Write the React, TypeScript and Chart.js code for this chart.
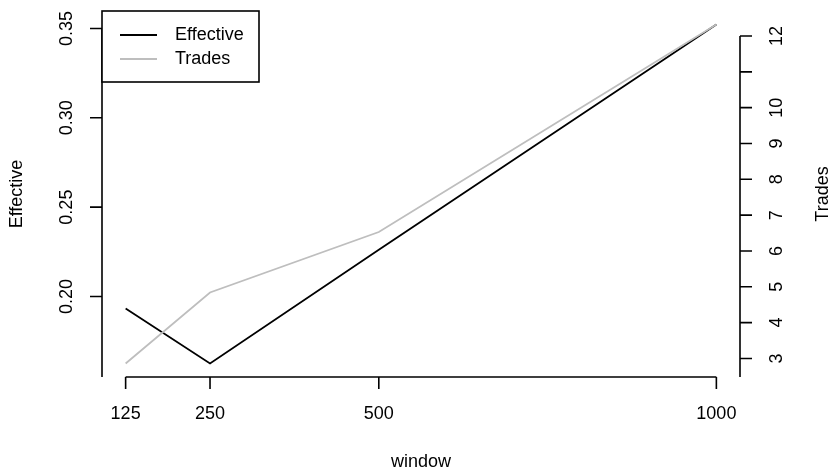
import React, { useEffect, useRef } from "react";
import { Chart, registerables } from "chart.js";

Chart.register(...registerables);

const windows = [125, 250, 500, 1000];
const effective = [0.1933, 0.1625, 0.2262, 0.3522];
const trades = [2.86, 4.84, 6.53, 12.32];
const xTicks = [125, 250, 500, 1000];
const leftTicks = [0.2, 0.25, 0.3, 0.35];
const leftTickLabels = ["0.20", "0.25", "0.30", "0.35"];
const rightTicks = [3, 4, 5, 6, 7, 8, 9, 10, 11, 12];
const rightTickLabels = ["3", "4", "5", "6", "7", "8", "9", "10", "", "12"];
const legendLabels = ["Effective", "Trades"];

const BLACK = "#000000";
const GRAY = "#BEBEBE";
const FONT = '18px "Liberation Sans", Arial, Helvetica, sans-serif';

function ext(vals: number[]) {
  const mn = Math.min(...vals);
  const mx = Math.max(...vals);
  const r = mx - mn;
  return { min: mn - 0.04 * r, max: mx + 0.04 * r };
}

const axesPlugin = {
  id: "rAxes",
  afterDraw(chart: any) {
    const ctx = chart.ctx as CanvasRenderingContext2D;
    const { left, right, top, bottom } = chart.chartArea;
    const xs = chart.scales.x;
    const ys = chart.scales.y;
    const y1 = chart.scales.y1;
    const tick = 12;
    ctx.save();
    ctx.strokeStyle = BLACK;
    ctx.fillStyle = BLACK;
    ctx.lineWidth = 1.6;
    ctx.font = FONT;

    // x axis
    const x0 = xs.getPixelForValue(xTicks[0]);
    const x1 = xs.getPixelForValue(xTicks[xTicks.length - 1]);
    ctx.beginPath();
    ctx.moveTo(x0, bottom);
    ctx.lineTo(x1, bottom);
    xTicks.forEach((t) => {
      const px = xs.getPixelForValue(t);
      ctx.moveTo(px, bottom);
      ctx.lineTo(px, bottom + tick);
    });
    ctx.stroke();
    ctx.textAlign = "center";
    ctx.textBaseline = "middle";
    xTicks.forEach((t) => {
      ctx.fillText(String(t), xs.getPixelForValue(t), bottom + 37);
    });
    ctx.fillText("window", (left + right) / 2, bottom + 85);

    // left axis
    const lt = ys.getPixelForValue(leftTicks[leftTicks.length - 1]);
    ctx.beginPath();
    ctx.moveTo(left, lt);
    ctx.lineTo(left, bottom);
    leftTicks.forEach((t) => {
      const py = ys.getPixelForValue(t);
      ctx.moveTo(left, py);
      ctx.lineTo(left - tick, py);
    });
    ctx.stroke();
    leftTicks.forEach((t, i) => {
      const py = ys.getPixelForValue(t);
      ctx.save();
      ctx.translate(left - 35, py);
      ctx.rotate(-Math.PI / 2);
      ctx.fillText(leftTickLabels[i], 0, 0);
      ctx.restore();
    });
    ctx.save();
    ctx.translate(left - 85, (top + bottom) / 2);
    ctx.rotate(-Math.PI / 2);
    ctx.fillText("Effective", 0, 0);
    ctx.restore();

    // right axis
    const rt = y1.getPixelForValue(rightTicks[rightTicks.length - 1]);
    ctx.beginPath();
    ctx.moveTo(right, rt);
    ctx.lineTo(right, bottom);
    rightTicks.forEach((t) => {
      const py = y1.getPixelForValue(t);
      ctx.moveTo(right, py);
      ctx.lineTo(right + tick, py);
    });
    ctx.stroke();
    rightTicks.forEach((t, i) => {
      const py = y1.getPixelForValue(t);
      ctx.save();
      ctx.translate(right + 37, py);
      ctx.rotate(-Math.PI / 2);
      ctx.fillText(rightTickLabels[i], 0, 0);
      ctx.restore();
    });
    ctx.save();
    ctx.translate(right + 83, (top + bottom) / 2);
    ctx.rotate(-Math.PI / 2);
    ctx.fillText("Trades", 0, 0);
    ctx.restore();

    // legend
    const lx = left;
    const ly = top;
    const lw = 157;
    const lh = 71;
    ctx.fillStyle = "#ffffff";
    ctx.fillRect(lx, ly, lw, lh);
    ctx.strokeStyle = BLACK;
    ctx.strokeRect(lx, ly, lw, lh);
    const cols = [BLACK, GRAY];
    legendLabels.forEach((lab, i) => {
      const yy = ly + 24 + i * 24;
      ctx.strokeStyle = cols[i];
      ctx.lineWidth = 1.8;
      ctx.beginPath();
      ctx.moveTo(lx + 18, yy);
      ctx.lineTo(lx + 55, yy);
      ctx.stroke();
      ctx.fillStyle = BLACK;
      ctx.textAlign = "left";
      ctx.fillText(lab, lx + 73, yy);
    });
    ctx.restore();
  },
};

export default function App() {
  const ref = useRef<HTMLCanvasElement | null>(null);
  useEffect(() => {
    document.body.style.margin = "0";
    const xr = ext(windows);
    const yr = ext(effective);
    const y1r = ext(trades);
    const chart = new Chart(ref.current as HTMLCanvasElement, {
      type: "line",
      data: {
        datasets: [
          {
            label: legendLabels[0],
            data: windows.map((w, i) => ({ x: w, y: effective[i] })),
            borderColor: BLACK,
            borderWidth: 1.8,
            pointRadius: 0,
            tension: 0,
            yAxisID: "y",
            order: 1,
          },
          {
            label: legendLabels[1],
            data: windows.map((w, i) => ({ x: w, y: trades[i] })),
            borderColor: GRAY,
            borderWidth: 1.8,
            pointRadius: 0,
            tension: 0,
            yAxisID: "y1",
            order: 0,
          },
        ],
      },
      options: {
        responsive: false,
        animation: false,
        layout: { padding: { left: 102, top: 11, right: 90, bottom: 96 } },
        plugins: { legend: { display: false }, tooltip: { enabled: false } },
        scales: {
          x: { type: "linear", min: xr.min, max: xr.max, display: false },
          y: { type: "linear", min: yr.min, max: yr.max, display: false },
          y1: { type: "linear", min: y1r.min, max: y1r.max, display: false, position: "right" },
        },
      },
      plugins: [axesPlugin],
    });
    return () => chart.destroy();
  }, []);
  return <canvas ref={ref} width={830} height={473} style={{ display: "block" }} />;
}
